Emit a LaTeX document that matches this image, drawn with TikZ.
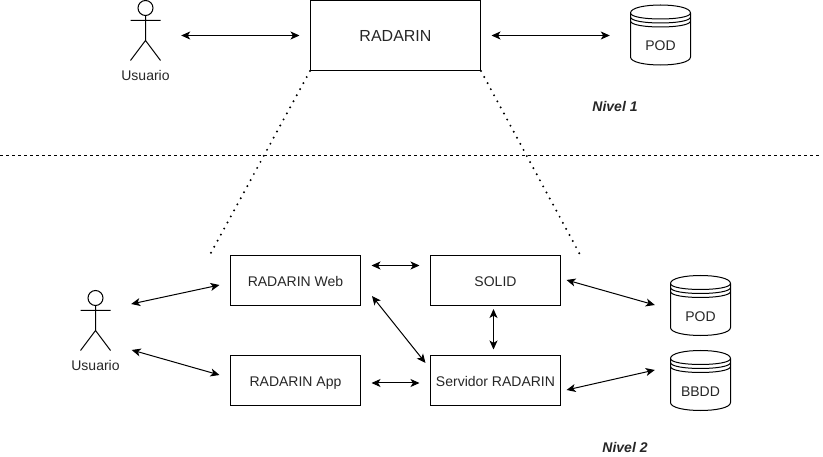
\documentclass[tikz,border=0pt]{standalone}
\usepackage{fontspec}
\setmainfont{Liberation Sans}
\usetikzlibrary{arrows.meta}
\definecolor{txt}{HTML}{262626}
\tikzset{
  x=1pt,y=-1pt,
  lbl/.style={inner sep=0pt,text=txt,text height=12pt,text depth=0pt,font=\fontsize{14}{16}\selectfont},
  box/.style={draw=black,line width=1pt,minimum width=130pt,minimum height=50pt,inner sep=0pt,text=txt,text height=12pt,text depth=0pt,font=\fontsize{14}{16}\selectfont},
  bigbox/.style={box,minimum width=170pt,minimum height=70pt,text height=11.5pt,text depth=0pt,font=\fontsize{16}{18}\selectfont},
  nivel/.style={inner sep=0pt,text=txt,text height=12pt,text depth=0pt,font=\fontsize{14}{16}\selectfont\bfseries\itshape},
  arr/.style={line width=1pt,{Stealth[length=9pt,width=8pt,inset=2.4pt]}-{Stealth[length=9pt,width=8pt,inset=2.4pt]}},
  dots/.style={line width=2.2pt,line cap=round,dash pattern=on 0pt off 6.9pt},
  sep/.style={line width=1pt,dash pattern=on 3pt off 3pt},
  actorshape/.style={draw=none,minimum width=30pt,minimum height=60pt,inner sep=0pt},
  storeshape/.style={draw=none,minimum width=60pt,minimum height=60pt,inner sep=0pt,text=txt,text height=12pt,text depth=0pt,font=\fontsize{14}{16}\selectfont,yshift=-10pt},
}
\newcommand{\actorfig}[2]{%
  \begin{scope}[shift={(#1,#2)},line width=1pt]
    \draw (0,7.5) circle[radius=7.5pt];
    \draw (0,15) -- (0,40) (-15,20) -- (15,20) (-15,60) -- (0,40) -- (15,60);
  \end{scope}}
\newcommand{\storefig}[2]{%
  \begin{scope}[shift={(#1,#2)},line width=1pt]
    \draw (0,8) .. controls (0,-2.67) and (60,-2.67) .. (60,8) -- (60,52)
      .. controls (60,62.67) and (0,62.67) .. (0,52) -- cycle;
    \draw (0,8) .. controls (0,16) and (60,16) .. (60,8);
    \draw (0,12) .. controls (0,20) and (60,20) .. (60,12);
    \draw (0,16) .. controls (0,24) and (60,24) .. (60,16);
  \end{scope}}
\begin{document}
\begin{tikzpicture}
\useasboundingbox (0,0) rectangle (823,457);
% level 1
\actorfig{145.5}{0.5}
\node[actorshape] (u1) at (145.5,31) {};
\node[lbl] (u1l) at (145.5,75) {Usuario};
\node[bigbox] (r) at (395.5,35.5) {RADARIN};
\storefig{630.5}{5}
\node[storeshape] (p1) at (660.5,35) {POD};
\node[nivel] (n1) at (615,106) {Nivel 1};
% separator
\coordinate (sl) at (0,155.5);
\coordinate (sr) at (820,155.5);
\draw[sep] (sl) -- (sr);
% level 2
\actorfig{95.5}{290.5}
\node[actorshape] (u2) at (95.5,321) {};
\node[lbl] (u2l) at (95.5,365) {Usuario};
\node[box] (web) at (295.5,280.5) {RADARIN Web};
\node[box] (app) at (295.5,380.5) {RADARIN App};
\node[box] (sol) at (495.5,280.5) {SOLID};
\node[box] (srv) at (495.5,380.5) {Servidor RADARIN};
\storefig{670.5}{275.5}
\node[storeshape] (p2) at (700.5,305.5) {POD};
\storefig{670.5}{350.5}
\node[storeshape] (db) at (700.5,380.5) {BBDD};
\node[nivel] (n2) at (625,446) {Nivel 2};
% connectors
\draw[arr] ([xshift=20.5pt,yshift=-4.5pt]u1.east) -- ([xshift=-10.5pt]r.west);
\draw[arr] ([xshift=10.5pt]r.east) -- ([xshift=-20.5pt,yshift=9.5pt]p1.west);
\draw[dots] (r.south west) -- ([xshift=-20.5pt,yshift=-0.5pt]web.north west);
\draw[dots] (r.south east) -- ([xshift=19.5pt,yshift=-0.5pt]sol.north east);
\draw[arr] ([xshift=20.5pt,yshift=17pt]u2.east) -- ([xshift=-10.5pt,yshift=-4.5pt]web.west);
\draw[arr] ([xshift=21pt,yshift=-29pt]u2.east) -- ([xshift=-10.5pt,yshift=5.5pt]app.west);
\draw[arr] ([xshift=10.5pt,yshift=15pt]web.east) -- ([xshift=-10.5pt,yshift=15pt]sol.west);
\draw[arr] ([xshift=10.5pt,yshift=-2.5pt]app.east) -- ([xshift=-10.5pt,yshift=-2.5pt]srv.west);
\draw[arr] ([xshift=11pt,yshift=-15.5pt]web.east) -- ([xshift=-4.5pt,yshift=17.5pt]srv.west);
\draw[arr] ([xshift=-2pt,yshift=-3pt]sol.south) -- ([xshift=-2pt,yshift=5.5pt]srv.north);
\draw[arr] ([xshift=5.5pt,yshift=0.5pt]sol.east) -- ([xshift=-15.5pt,yshift=10.5pt]p2.west);
\draw[arr] ([xshift=5.5pt,yshift=-9.5pt]srv.east) -- ([xshift=-15.5pt,yshift=20.5pt]db.west);
\end{tikzpicture}
\end{document}
